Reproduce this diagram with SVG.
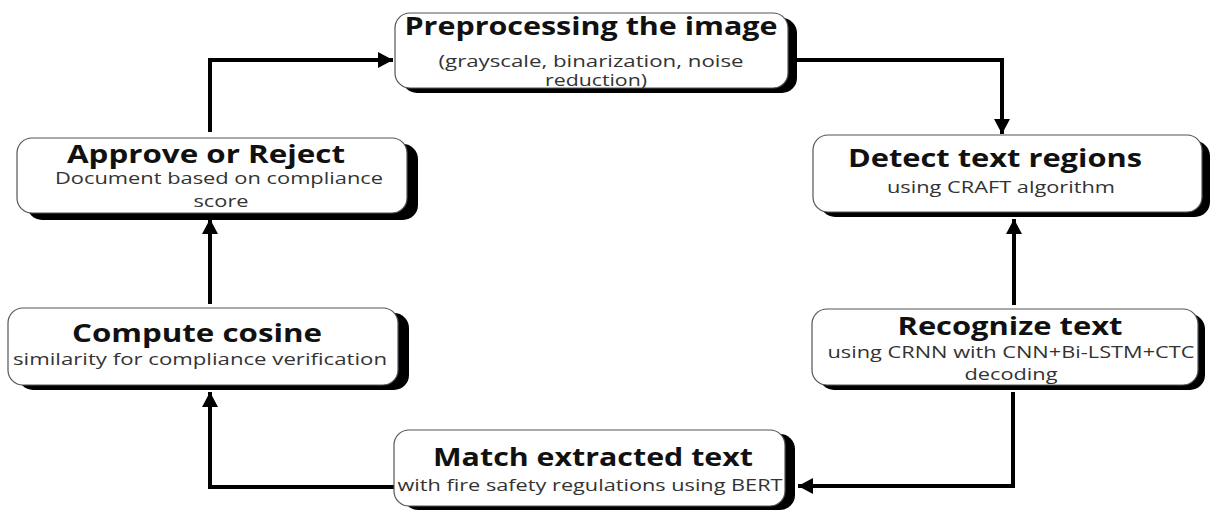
<svg xmlns="http://www.w3.org/2000/svg" width="1210" height="511" viewBox="0 0 1210 511">
  <style>
    .shadow { fill: #000; }
    .box { fill: #fff; stroke: #555; stroke-width: 1.2; }
    .title { font-family: "Open Sans", "Liberation Sans", sans-serif; font-weight: 700; font-size: 25px; fill: #111; text-anchor: middle; }
    .sub { font-family: "Open Sans", "Liberation Sans", sans-serif; font-weight: 400; font-size: 16px; fill: #333; text-anchor: middle; }
    .conn { fill: none; stroke: #000; stroke-width: 4; stroke-linejoin: miter; }
  </style>
  <defs>
    <marker id="arrow" markerUnits="userSpaceOnUse" markerWidth="16" markerHeight="18" refX="15" refY="9" orient="auto">
      <path d="M0,1 L15,9 L0,17 Z" fill="#000"/>
    </marker>
  </defs>
  <rect width="1210" height="511" fill="#fff"/>

  <g id="connectors">
    <path class="conn" d="M210,132 V60 H393" marker-end="url(#arrow)"/>
    <path class="conn" d="M797,60 H1002 V134" marker-end="url(#arrow)"/>
    <path class="conn" d="M1014,305 V219" marker-end="url(#arrow)"/>
    <path class="conn" d="M1013,392 V486 H798" marker-end="url(#arrow)"/>
    <path class="conn" d="M394,487 H210 V392" marker-end="url(#arrow)"/>
    <path class="conn" d="M210,304 V219" marker-end="url(#arrow)"/>
  </g>

  <g id="node-preprocess">
    <rect class="shadow" x="402" y="18" width="395" height="75" rx="15"/>
    <rect class="box" x="395" y="13" width="393" height="75" rx="15"/>
    <text class="title" x="591" y="35" textLength="373" lengthAdjust="spacingAndGlyphs">Preprocessing the image</text>
    <text class="sub" x="591" y="67" textLength="305" lengthAdjust="spacingAndGlyphs">(grayscale, binarization, noise</text>
    <text class="sub" x="596" y="86" textLength="102" lengthAdjust="spacingAndGlyphs">reduction)</text>
  </g>

  <g id="node-detect">
    <rect class="shadow" x="820" y="141" width="390" height="76" rx="15"/>
    <rect class="box" x="813" y="135" width="389" height="77" rx="15"/>
    <text class="title" x="995" y="167" textLength="294" lengthAdjust="spacingAndGlyphs">Detect text regions</text>
    <text class="sub" x="1001" y="193" textLength="228" lengthAdjust="spacingAndGlyphs">using CRAFT algorithm</text>
  </g>

  <g id="node-recognize">
    <rect class="shadow" x="819" y="314" width="386" height="76" rx="15"/>
    <rect class="box" x="812" y="309" width="386" height="76" rx="15"/>
    <text class="title" x="1010" y="335" textLength="225" lengthAdjust="spacingAndGlyphs">Recognize text</text>
    <text class="sub" x="1011" y="358" textLength="367" lengthAdjust="spacingAndGlyphs">using CRNN with CNN+Bi-LSTM+CTC</text>
    <text class="sub" x="1011" y="380" textLength="93" lengthAdjust="spacingAndGlyphs">decoding</text>
  </g>

  <g id="node-match">
    <rect class="shadow" x="403" y="434" width="392" height="76" rx="15"/>
    <rect class="box" x="394" y="430" width="391" height="76" rx="15"/>
    <text class="title" x="593" y="466" textLength="320" lengthAdjust="spacingAndGlyphs">Match extracted text</text>
    <text class="sub" x="590" y="491" textLength="385" lengthAdjust="spacingAndGlyphs">with fire safety regulations using BERT</text>
  </g>

  <g id="node-compute">
    <rect class="shadow" x="18" y="313" width="391" height="77" rx="15"/>
    <rect class="box" x="8" y="308" width="390" height="77" rx="15"/>
    <text class="title" x="197" y="342" textLength="250" lengthAdjust="spacingAndGlyphs">Compute cosine</text>
    <text class="sub" x="200" y="365" textLength="374" lengthAdjust="spacingAndGlyphs">similarity for compliance verification</text>
  </g>

  <g id="node-approve">
    <rect class="shadow" x="27" y="144" width="391" height="76" rx="15"/>
    <rect class="box" x="17" y="138" width="390" height="75" rx="15"/>
    <text class="title" x="206" y="163" textLength="278" lengthAdjust="spacingAndGlyphs">Approve or Reject</text>
    <text class="sub" x="219" y="184" textLength="328" lengthAdjust="spacingAndGlyphs">Document based on compliance</text>
    <text class="sub" x="221" y="207" textLength="55" lengthAdjust="spacingAndGlyphs">score</text>
  </g>
</svg>
